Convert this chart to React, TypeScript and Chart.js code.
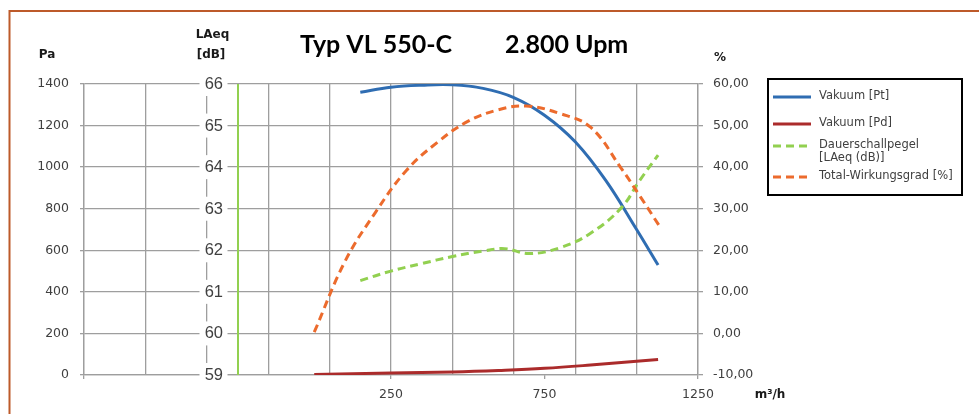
import { useEffect, useRef } from 'react';
import { Chart, registerables } from 'chart.js';

Chart.register(...registerables);

// ---------- text ----------
const TITLE_LEFT = 'Typ VL 550-C';
const TITLE_RIGHT = '2.800 Upm';
const PA_TITLE = 'Pa';
const LAEQ_TITLE = ['LAeq', '[dB]'];
const PCT_TITLE = '%';
const X_TITLE = 'm³/h';

// ---------- ticks ----------
const X_GRID = [-750, -550, -350, -150, 50, 250, 450, 650, 850, 1050, 1250];
const X_LABELS = [250, 750, 1250];
const PA_TICKS = [0, 200, 400, 600, 800, 1000, 1200, 1400];
const LAEQ_TICKS = [59, 60, 61, 62, 63, 64, 65, 66];
const PCT_TICKS = [-10, 0, 10, 20, 30, 40, 50, 60];
const LAEQ_AXIS_AT = -250; // x value where the LAeq axis line sits

// ---------- series ----------
const SERIES_NAMES = [
  ['Vakuum [Pt]'],
  ['Vakuum [Pd]'],
  ['Dauerschallpegel', '[LAeq (dB)]'],
  ['Total-Wirkungsgrad [%]'],
];

const PT_X = [150, 250, 350, 450, 550, 650, 750, 850, 950, 1050, 1120];
const PT_Y = [1360, 1384, 1394, 1396, 1379, 1335, 1250, 1122, 935, 700, 529];

const PD_X = [0, 250, 450, 600, 750, 900, 1120];
const PD_Y = [2, 10, 15, 22, 32, 48, 75];

const LAEQ_X = [150, 250, 350, 450, 550, 620, 700, 800, 900, 1000, 1060, 1120];
const LAEQ_Y = [61.27, 61.5, 61.68, 61.85, 61.98, 62.04, 61.92, 62.06, 62.41, 63.02, 63.68, 64.29];

const EFF_X = [0, 100, 200, 300, 400, 500, 600, 690, 800, 900, 1000, 1062, 1122];
const EFF_Y = [0.3, 17.3, 29.2, 39.2, 45.9, 51.0, 53.8, 54.7, 52.9, 49.6, 39.7, 32.9, 26.1];

// ---------- styles ----------
const GRID = '#9e9e9e';
const TICK_TEXT = '#404040';
const BLUE = '#2f6db2';
const RED = '#ab2b2b';
const GREEN = '#92d050';
const ORANGE = '#ec6b2d';
const DASH = [8, 5];

const pts = (xs: number[], ys: number[]) => xs.map((x, i) => ({ x, y: ys[i] }));
const toTicks = (vals: number[]) => vals.map((value) => ({ value }));

const decorPlugin = {
  id: 'decor',
  beforeDraw(chart: any) {
    const { ctx } = chart;
    ctx.save();
    ctx.fillStyle = '#ffffff';
    ctx.fillRect(0, 0, chart.width, chart.height);
    ctx.strokeStyle = '#bd5a2a';
    ctx.lineWidth = 2;
    ctx.strokeRect(9.5, 11, 3000, 3000);
    ctx.restore();
  },
  beforeDatasetsDraw(chart: any) {
    const { ctx, chartArea, scales } = chart;
    const gx = Math.round(scales.x.getPixelForValue(LAEQ_AXIS_AT));
    ctx.save();
    ctx.strokeStyle = GREEN;
    ctx.lineWidth = 2;
    ctx.beginPath();
    ctx.moveTo(gx, chartArea.top);
    ctx.lineTo(gx, chartArea.bottom);
    ctx.stroke();
    ctx.restore();
  },
  afterDraw(chart: any) {
    const { ctx, chartArea, scales } = chart;
    ctx.save();

    // LAeq axis labels with white backdrops
    const gx = scales.x.getPixelForValue(LAEQ_AXIS_AT);
    ctx.font = '16.5px "Liberation Sans", Arial, sans-serif';
    ctx.textAlign = 'right';
    ctx.textBaseline = 'middle';
    LAEQ_TICKS.forEach((v) => {
      const y = scales.yL.getPixelForValue(v);
      ctx.fillStyle = '#ffffff';
      ctx.fillRect(gx - 38, y - 12, 28, 24);
      ctx.fillStyle = TICK_TEXT;
      ctx.fillText(String(v), gx - 14.5, y + 0.5);
    });

    // Title
    ctx.fillStyle = '#000000';
    ctx.font = 'bold 25px Lato, "Open Sans", sans-serif';
    ctx.textAlign = 'left';
    ctx.textBaseline = 'alphabetic';
    ctx.fillText(TITLE_LEFT, 300, 53);
    ctx.fillText(TITLE_RIGHT, 505, 53);

    // axis titles
    ctx.fillStyle = '#1a1a1a';
    ctx.font = 'bold 12px "DejaVu Sans", sans-serif';
    ctx.textAlign = 'center';
    ctx.textBaseline = 'middle';
    ctx.fillText(PA_TITLE, chartArea.left - 37, chartArea.top - 29);
    ctx.fillText(LAEQ_TITLE[0], gx - 25, chartArea.top - 49);
    ctx.fillText(LAEQ_TITLE[1], gx - 26.5, chartArea.top - 29);
    ctx.fillText(PCT_TITLE, chartArea.right + 22, chartArea.top - 26);
    ctx.fillText(X_TITLE, chartArea.right + 72, chartArea.bottom + 20);

    // legend
    const datasets = chart.data.datasets;
    ctx.strokeStyle = '#000000';
    ctx.lineWidth = 2;
    ctx.strokeRect(768, 79, 194, 116);
    const rowY = [96.5, 123.5, 145.5, 176.5];
    ctx.font = '11.5px "DejaVu Sans", sans-serif';
    ctx.textAlign = 'left';
    ctx.textBaseline = 'middle';
    datasets.forEach((ds: any, i: number) => {
      const y = rowY[i];
      ctx.save();
      ctx.strokeStyle = ds.borderColor;
      ctx.lineWidth = 3;
      ctx.setLineDash(ds.borderDash || []);
      ctx.beginPath();
      ctx.moveTo(773, y + 0.5);
      ctx.lineTo(811, y + 0.5);
      ctx.stroke();
      ctx.restore();
      ctx.fillStyle = TICK_TEXT;
      SERIES_NAMES[i].forEach((line, j) => ctx.fillText(line, 819, y + j * 13));
    });

    ctx.restore();
  },
};

export default function App() {
  const ref = useRef<HTMLCanvasElement>(null);

  useEffect(() => {
    const tickFont = { family: '"DejaVu Sans", sans-serif', size: 12.5 };
    const chart = new Chart(ref.current as HTMLCanvasElement, {
      type: 'line',
      data: {
        datasets: [
          {
            label: SERIES_NAMES[0].join(' '),
            data: pts(PT_X, PT_Y),
            yAxisID: 'y',
            borderColor: BLUE,
            borderWidth: 3,
            order: 3,
          },
          {
            label: SERIES_NAMES[1].join(' '),
            data: pts(PD_X, PD_Y),
            yAxisID: 'y',
            borderColor: RED,
            borderWidth: 3,
            order: 2,
          },
          {
            label: SERIES_NAMES[2].join(' '),
            data: pts(LAEQ_X, LAEQ_Y),
            yAxisID: 'yL',
            borderColor: GREEN,
            borderWidth: 3,
            borderDash: DASH,
            order: 1,
          },
          {
            label: SERIES_NAMES[3].join(' '),
            data: pts(EFF_X, EFF_Y),
            yAxisID: 'yP',
            borderColor: ORANGE,
            borderWidth: 3,
            borderDash: DASH,
            order: 0,
          },
        ] as any,
      },
      options: {
        animation: false,
        responsive: true,
        maintainAspectRatio: false,
        layout: { padding: { left: 10, top: 84, right: 221, bottom: 9 } },
        elements: {
          point: { radius: 0, hoverRadius: 0 },
          line: { tension: 0.4, fill: false, borderCapStyle: 'butt' },
        },
        plugins: {
          legend: { display: false },
          tooltip: { enabled: false },
          title: { display: false },
        },
        events: [],
        scales: {
          x: {
            type: 'linear',
            min: -750,
            max: 1250,
            afterBuildTicks: (s: any) => {
              s.ticks = toTicks(Array.from(new Set([...X_GRID, ...X_LABELS])).sort((a, b) => a - b));
            },
            afterFit: (s: any) => {
              s.height = 30;
            },
            ticks: {
              autoSkip: false,
              maxRotation: 0,
              padding: 8,
              color: TICK_TEXT,
              font: tickFont,
              callback: (v: any) => (X_LABELS.includes(Number(v)) ? String(v) : ''),
            },
            grid: {
              color: (c: any) => (c.tick && X_GRID.includes(c.tick.value) ? GRID : 'rgba(0,0,0,0)'),
              lineWidth: 1.3,
              tickLength: 4,
              tickColor: (c: any) =>
                c.tick && (X_LABELS.includes(c.tick.value) || c.tick.value === X_GRID[0]) ? GRID : 'rgba(0,0,0,0)',
            },
            border: { color: GRID, width: 1.3 },
          },
          y: {
            type: 'linear',
            position: 'left',
            min: PA_TICKS[0],
            max: PA_TICKS[PA_TICKS.length - 1],
            afterBuildTicks: (s: any) => {
              s.ticks = toTicks(PA_TICKS);
            },
            afterFit: (s: any) => {
              s.width = 74;
            },
            ticks: { padding: 11, color: TICK_TEXT, font: tickFont, callback: (v: any) => String(v) },
            grid: { color: GRID, lineWidth: 1.3, tickLength: 4 },
            border: { color: GRID, width: 1.3 },
          },
          yL: {
            type: 'linear',
            display: false,
            min: LAEQ_TICKS[0],
            max: LAEQ_TICKS[LAEQ_TICKS.length - 1],
          },
          yP: {
            type: 'linear',
            position: 'right',
            min: PCT_TICKS[0],
            max: PCT_TICKS[PCT_TICKS.length - 1],
            afterBuildTicks: (s: any) => {
              s.ticks = toTicks(PCT_TICKS);
            },
            afterFit: (s: any) => {
              s.width = 60;
            },
            ticks: {
              padding: 10,
              color: TICK_TEXT,
              font: tickFont,
              callback: (v: any) => Number(v).toFixed(2).replace('.', ','),
            },
            grid: { drawOnChartArea: false, color: GRID, lineWidth: 1.3, tickLength: 5 },
            border: { color: GRID, width: 1.3 },
          },
        },
      } as any,
      plugins: [decorPlugin],
    });
    return () => chart.destroy();
  }, []);

  return (
    <div style={{ position: 'absolute', left: 0, top: 0, width: 979, height: 414 }}>
      <canvas ref={ref} />
    </div>
  );
}
